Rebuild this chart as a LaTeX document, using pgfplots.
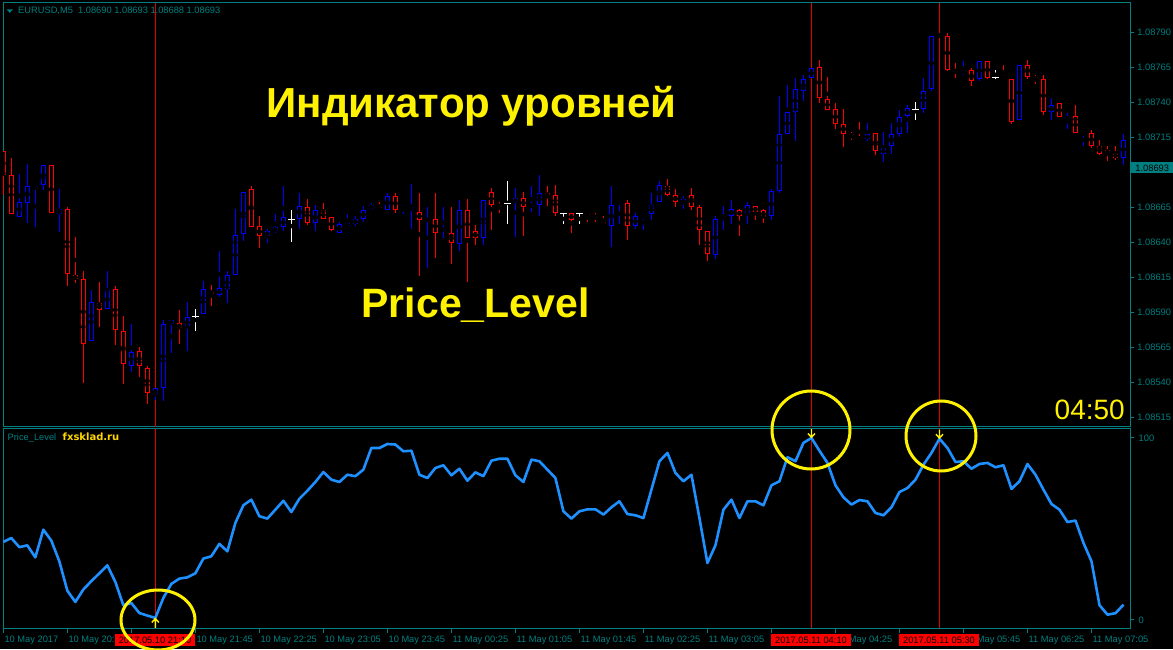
\documentclass[border=0pt]{standalone}
\usepackage{pgfplots}
\usepackage{pgfplotstable}
\pgfplotsset{compat=1.18}
\usepackage{fontspec}
\setmainfont{Liberation Sans}
\newfontfamily\dvs{DejaVu Sans}
\definecolor{mtteal}{RGB}{0,128,128}
\definecolor{mtblue}{RGB}{0,0,255}
\definecolor{mtred}{RGB}{255,0,0}
\definecolor{lvl}{RGB}{30,144,255}
\definecolor{vline}{RGB}{225,0,0}
\definecolor{gold}{RGB}{255,215,0}
\newcommand\ticksize{\fontsize{9.3}{11}\selectfont}

% candles: index, open, high, low, close (price in 1e-5 above 1.08000)
\pgfplotstableread{
k o h l c
0 705.0 705.0 673.6 687.9
1 688.0 700.3 660.0 660.0
2 658.4 688.8 657.9 668.6
3 667.9 696.0 654.1 680.0
4 678.6 680.0 651.2 680.0
5 680.7 695.0 677.4 695.0
6 695.0 695.0 660.8 660.8
7 660.0 677.9 647.7 663.6
8 663.6 665.0 609.1 617.2
9 616.5 643.6 611.3 613.7
10 613.7 619.6 539.9 567.3
11 569.4 606.0 569.4 597.2
12 596.5 611.5 579.9 591.5
13 592.2 619.6 592.2 606.5
14 606.5 608.9 567.0 577.3
15 576.5 587.5 539.2 553.0
16 551.6 581.8 547.8 561.6
17 562.3 565.4 544.0 551.6
18 550.1 551.8 524.9 532.3
19 530.9 535.9 527.5 535.9
20 535.9 584.4 527.1 581.5
21 581.5 584.4 561.3 584.4
22 582.3 591.5 567.7 578.7
23 579.4 597.2 562.7 586.5
24 587.3 592.2 577.0 587.3
25 588.7 612.2 588.7 606.5
26 604.6 609.4 594.9 603.7
27 602.2 633.6 600.8 607.2
28 606.5 619.4 597.0 616.5
29 616.5 663.6 616.5 645.5
30 645.8 675.7 641.3 675.7
31 677.9 680.0 650.8 650.8
32 651.5 658.6 636.3 644.3
33 644.6 649.3 639.4 647.9
34 647.9 660.0 646.5 650.8
35 650.8 680.0 648.4 657.9
36 656.5 662.9 640.5 656.5
37 656.5 675.1 649.4 665.8
38 665.1 670.8 652.7 653.7
39 653.7 666.5 648.0 662.9
40 662.9 667.9 656.5 656.5
41 657.9 657.9 648.0 648.7
42 646.5 654.4 646.5 652.9
43 651.5 660.1 651.5 653.7
44 652.9 658.7 651.5 656.5
45 656.5 665.8 654.4 662.9
46 663.7 667.9 662.9 666.5
47 665.1 668.6 662.9 663.7
48 662.9 675.1 662.9 672.9
49 672.9 675.1 660.8 662.9
50 665.1 666.5 660.1 666.5
51 662.9 681.7 649.4 665.1
52 661.5 675.1 616.3 655.8
53 655.8 665.1 621.5 656.5
54 656.5 675.1 628.7 646.5
55 648.7 665.1 643.0 649.4
56 646.5 665.1 624.4 639.4
57 638.7 670.1 633.7 662.9
58 662.9 670.8 612.0 643.0
59 648.0 652.2 638.0 643.0
60 643.0 670.1 638.0 670.1
61 675.8 678.6 648.7 666.5
62 666.5 668.6 660.8 665.8
63 667.9 683.6 652.9 667.9
64 668.6 678.6 643.7 671.5
65 671.5 675.8 644.4 665.1
66 665.8 680.1 661.5 666.5
67 666.5 687.9 658.7 675.1
68 675.1 680.1 665.8 672.9
69 673.6 680.8 658.7 660.8
70 660.8 660.8 652.9 660.8
71 660.8 660.8 646.5 655.8
72 660.8 660.8 652.9 660.8
73 660.8 660.8 654.4 660.1
74 658.7 660.8 654.4 657.9
75 654.4 658.7 652.9 652.9
76 651.5 680.1 636.5 666.5
77 667.9 668.6 652.9 668.6
78 667.9 670.1 641.5 651.5
79 651.5 660.8 649.4 658.7
80 657.9 660.1 648.7 658.7
81 660.1 675.1 655.8 666.5
82 668.6 683.6 668.6 680.8
83 680.1 685.1 672.9 673.6
84 673.6 677.9 665.1 668.6
85 667.9 672.9 663.7 670.8
86 673.6 678.6 662.9 665.1
87 665.1 666.5 638.0 648.7
88 648.0 648.0 626.5 631.5
89 630.8 658.7 628.0 656.5
90 657.9 665.8 648.7 658.7
91 658.7 670.1 652.9 663.7
92 662.9 663.7 644.4 658.7
93 660.1 668.6 652.9 666.5
94 665.8 665.8 655.8 661.5
95 662.9 663.7 653.7 657.9
96 658.7 677.9 655.8 676.5
97 676.5 744.3 675.1 717.2
98 717.2 752.2 717.2 732.9
99 732.9 757.2 712.7 749.3
100 747.9 759.3 740.8 756.5
101 757.2 764.3 757.2 764.3
102 765.0 770.0 739.3 742.9
103 742.2 757.9 734.3 734.3
104 735.0 739.3 720.8 724.3
105 724.3 735.0 707.9 717.2
106 717.2 718.6 712.9 715.8
107 715.1 725.8 712.2 713.6
108 713.6 725.1 712.2 717.2
109 717.9 717.9 702.2 705.1
110 702.9 718.6 697.2 707.2
111 708.6 725.1 702.9 717.2
112 717.2 734.3 715.5 729.3
113 730.0 737.9 717.9 735.8
114 735.0 740.0 727.2 735.0
115 735.0 757.2 732.2 747.9
116 749.3 787.1 747.9 787.1
117 787.1 788.6 787.1 788.6
118 787.1 789.3 762.2 762.9
119 762.9 767.9 757.2 761.4
120 761.4 769.3 759.3 762.9
121 762.9 764.3 751.5 755.0
122 756.5 769.3 755.0 769.3
123 769.3 769.3 756.5 757.2
124 757.9 762.9 756.5 757.9
125 759.3 766.4 756.5 757.9
126 756.5 756.5 724.3 725.8
127 727.2 766.4 727.2 766.4
128 766.4 770.0 756.5 757.9
129 757.9 759.3 752.9 756.5
130 756.5 759.3 730.8 732.9
131 732.9 742.9 727.2 737.9
132 739.3 739.3 729.3 729.3
133 727.9 732.2 720.8 729.3
134 730.0 737.9 717.9 717.9
135 717.2 717.9 708.6 717.9
136 717.9 720.1 707.2 708.6
137 708.6 712.9 702.2 702.9
138 705.8 708.6 697.9 703.6
139 703.6 708.6 698.6 700.1
140 700.1 717.2 695.1 712.9
}\candles

\pgfplotstableread{
k v
0 42.9
1 45
2 40
3 41
4 34.4
5 49.6
6 43.6
7 32.2
8 16.1
9 9.9
10 16.7
11 21.3
12 25.6
13 30
14 20.9
15 8.1
16 9.3
17 3.8
18 2.4
19 1.1
20 12.1
21 19.8
22 22.7
23 23.4
24 25.6
25 33.7
26 35
27 41.8
28 37.7
29 53.3
30 63
31 66.1
32 57
33 55.7
34 60.6
35 65.5
36 59.3
37 66.6
38 71
39 75.8
40 81.3
41 77.1
42 75.8
43 79.8
44 79
45 82.6
46 94.5
47 94.5
48 96.7
49 96.4
50 92.7
51 93
52 79.8
53 78
54 83.5
55 85
56 79.5
57 83.1
58 76.5
59 81.1
60 79
61 87.5
62 88.6
63 88.6
64 79.5
65 75.8
66 88.1
67 87.2
68 82.6
69 78
70 59.7
71 55.7
72 59.7
73 60.8
74 60.8
75 57.9
76 61.9
77 65.2
78 58.2
79 57.5
80 56
81 71.6
82 87.2
83 91.8
84 80.8
85 76.2
86 79.8
87 56
88 31.3
89 41
90 60.6
91 66.1
92 56
93 65.2
94 65.2
95 63
96 74
97 76.2
98 89.4
99 87.2
100 97.3
101 100
102 93
103 86.3
104 74
105 67.4
106 63.4
107 65.9
108 65.2
109 58.8
110 57.5
111 61.9
112 70.3
113 72.5
114 77.1
115 85.3
116 91.8
117 99.6
118 94.5
119 86.8
120 87.2
121 83.1
122 85.7
123 86.3
124 83.9
125 85
126 72
127 76.2
128 85.7
129 79.8
130 71.6
131 63.7
132 60.6
133 53.8
134 54.6
135 42.3
136 32.2
137 8.1
138 2.9
139 3.7
140 8.4
}\level

\pgfplotstableread{
k v
101 100
117 99.6
}\downsig
\pgfplotstableread{
k v
19 1.1
}\upsig

\pgfdeclareplotmark{dnarrow}{%
  \pgfpathmoveto{\pgfqpoint{0pt}{1pt}}\pgfpathlineto{\pgfqpoint{0pt}{9pt}}%
  \pgfpathmoveto{\pgfqpoint{-3.5pt}{4.5pt}}\pgfpathlineto{\pgfqpoint{0pt}{0.6pt}}\pgfpathlineto{\pgfqpoint{3.5pt}{4.5pt}}%
  \pgfusepathqstroke}
\pgfdeclareplotmark{uparrow}{%
  \pgfpathmoveto{\pgfqpoint{0pt}{-1pt}}\pgfpathlineto{\pgfqpoint{0pt}{-10pt}}%
  \pgfpathmoveto{\pgfqpoint{-3.5pt}{-4.5pt}}\pgfpathlineto{\pgfqpoint{0pt}{-0.6pt}}\pgfpathlineto{\pgfqpoint{3.5pt}{-4.5pt}}%
  \pgfusepathqstroke}

\pgfplotsset{
  ebar/.style 2 args={only marks, mark=none, forget plot,
    error bars/y dir=both, error bars/y explicit, error bars/error mark=none,
    error bars/error bar style={line width=#1, color=#2, solid}},
}
\newcommand\candleset[3]{% color, lo, hi
  \addplot[restrict expr to domain={\thisrow{c}-\thisrow{o}}{#2:#3}, ebar={1pt}{#1}]
    table[x=k, y expr={(\thisrow{h}+\thisrow{l})/2}, y error expr={(\thisrow{h}-\thisrow{l})/2}] {\candles};
  \addplot[restrict expr to domain={\thisrow{c}-\thisrow{o}}{#2:#3}, ebar={5pt}{#1}]
    table[x=k, y expr={(\thisrow{o}+\thisrow{c})/2}, y error expr={abs(\thisrow{c}-\thisrow{o})/2}] {\candles};
  \addplot[restrict expr to domain={\thisrow{c}-\thisrow{o}}{#2:#3}, ebar={3pt}{black}]
    table[x=k, y expr={(\thisrow{o}+\thisrow{c})/2}, y error expr={max(abs(\thisrow{c}-\thisrow{o})/2-0.714,0)}] {\candles};
}

\begin{document}
\begin{tikzpicture}[x=1pt,y=1pt]
\useasboundingbox (0,0) rectangle (1173,649);
\fill[black] (0,0) rectangle (1173,649);
\begin{scope}
\clip (0,0) rectangle (1173,649);

% ---------- price panel ----------
\begin{axis}[
  at={(3pt,646pt)}, anchor=north west, scale only axis,
  width=1127.7pt, height=423.7pt,
  xmin=-0.04, xmax=140.9, ymin=508.5, ymax=810.9,
  axis line style={mtteal, line width=1pt},
  xtick=\empty,
  ytick={515,540,565,590,615,640,665,690,715,740,765,790},
  yticklabels={1.08515,1.08540,1.08565,1.08590,1.08615,1.08640,1.08665,{},1.08715,1.08740,1.08765,1.08790},
  ytick pos=right, tick align=outside, major tick length=3pt,
  tick style={mtteal, line width=1pt},
  yticklabel style={font=\ticksize, text=mtteal, anchor=west, inner sep=0pt, xshift=3.5pt},
]
\draw[vline, line width=1pt] (axis cs:19,508.5) -- (axis cs:19,810.9);
\draw[vline, line width=1pt] (axis cs:101,508.5) -- (axis cs:101,810.9);
\draw[vline, line width=1pt] (axis cs:117,508.5) -- (axis cs:117,810.9);
\candleset{mtblue}{0.3}{1000}
\candleset{mtred}{-1000}{-0.3}
\addplot[restrict expr to domain={\thisrow{c}-\thisrow{o}}{-0.3:0.3}, ebar={1pt}{white}]
  table[x=k, y expr={(\thisrow{h}+\thisrow{l})/2}, y error expr={(\thisrow{h}-\thisrow{l})/2}] {\candles};
\addplot[restrict expr to domain={\thisrow{c}-\thisrow{o}}{-0.3:0.3}, only marks, mark=-, mark size=3.5pt,
  white, mark options={line width=1pt, solid}] table[x=k, y=o] {\candles};
\end{axis}

% ---------- indicator panel ----------
\begin{axis}[
  at={(3pt,220.3pt)}, anchor=north west, scale only axis,
  width=1127.7pt, height=199.6pt,
  xmin=-0.04, xmax=140.9, ymin=-4.6, ymax=105.1,
  clip=false,
  axis line style={mtteal, line width=1pt},
  ytick={0,100}, yticklabels={0,100},
  ytick pos=right, xtick pos=left, tick align=outside,
  ytick style={mtteal, line width=1pt, /pgfplots/major tick length=3pt},
  xtick style={mtteal, line width=1pt, /pgfplots/major tick length=5pt},
  yticklabel style={font=\ticksize, text=mtteal, anchor=west, inner sep=0pt, xshift=3.5pt},
  xtick={0,8,16,24,32,40,48,56,64,72,80,88,96,104,112,120,128,136},
  xticklabels={10 May 2017,10 May 20:25,{},10 May 21:45,10 May 22:25,10 May 23:05,10 May 23:45,11 May 00:25,11 May 01:05,11 May 01:45,11 May 02:25,11 May 03:05,{},11 May 04:25,{},11 May 05:45,11 May 06:25,11 May 07:05},
  xticklabel style={font=\ticksize, text=mtteal, anchor=north west, inner sep=0pt, xshift=1pt, yshift=-3.5pt},
]
\draw[vline, line width=1pt] (axis cs:19,-4.6) -- (axis cs:19,105.1);
\draw[vline, line width=1pt] (axis cs:101,-4.6) -- (axis cs:101,105.1);
\draw[vline, line width=1pt] (axis cs:117,-4.6) -- (axis cs:117,105.1);
\addplot[lvl, line width=2.6pt, line join=round, mark=none] table[x=k, y=v] {\level};
\addplot[only marks, mark=dnarrow, yellow, mark options={line width=1.4pt, solid}] table[x=k, y=v] {\downsig};
\addplot[only marks, mark=uparrow, yellow, mark options={line width=1.4pt, solid}] table[x=k, y=v] {\upsig};
\end{axis}

% ---------- texts ----------
\fill[mtteal] (6.5,649-9.3) -- (13,649-9.3) -- (9.75,649-12.8) -- cycle;
\node[anchor=base west, inner sep=0pt, text=mtteal, font=\ticksize] at (18,649-14)
  {EURUSD,M5\ \ 1.08690 1.08693 1.08688 1.08693};
\node[anchor=base west, inner sep=0pt, text=mtteal, font=\ticksize] at (7.5,649-440.5) {Price\_Level};
\node[anchor=base west, inner sep=0pt, text=gold, font=\dvs\bfseries\fontsize{10}{12}\selectfont] at (62.5,649-440.5) {fxsklad.ru};
\node[anchor=base, inner sep=0pt, text=yellow, font=\bfseries\fontsize{42}{48}\selectfont] at (471.5,649-118) {Индикатор уровней};
\node[anchor=base, inner sep=0pt, text=yellow, font=\bfseries\fontsize{41}{48}\selectfont] at (475.5,649-318) {Price\_Level};
\node[anchor=base east, inner sep=0pt, text=yellow, font=\fontsize{28}{32}\selectfont] at (1125,649-419) {04:50};
\node[anchor=west, fill=mtteal, text=black, inner sep=0pt, minimum width=42pt, minimum height=11pt, font=\ticksize] at (1131,649-168) {1.08693};

\node[fill=mtred, text=black, inner sep=0pt, minimum width=80pt, minimum height=12.5pt, font=\ticksize] at (155,649-640) {2017.05.10 21:10};
\node[fill=mtred, text=black, inner sep=0pt, minimum width=80pt, minimum height=12.5pt, font=\ticksize] at (811,649-640) {2017.05.11 04:10};
\node[fill=mtred, text=black, inner sep=0pt, minimum width=80pt, minimum height=12.5pt, font=\ticksize] at (939,649-640) {2017.05.11 05:30};

% hand-drawn highlight circles
\draw[yellow, line width=3pt] (158,649-620) ellipse [x radius=37, y radius=30];
\draw[yellow, line width=3pt] (811,649-430) ellipse [x radius=39, y radius=39];
\draw[yellow, line width=3pt] (941,649-436) ellipse [x radius=35, y radius=35];
\end{scope}
\end{tikzpicture}
\end{document}
